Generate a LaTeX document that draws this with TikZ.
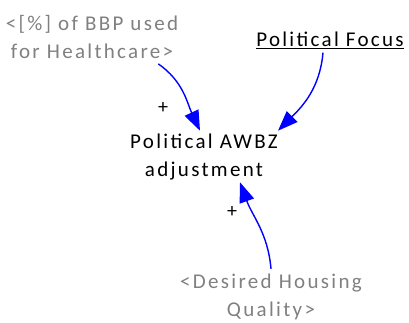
\documentclass[tikz,border=0pt]{standalone}
\usepackage{fontspec}
\setmainfont{Carlito}
\newfontfamily\diagfont{Carlito}[LetterSpace=11]
\usetikzlibrary{positioning}
\usetikzlibrary{arrows.meta}
\definecolor{linkblue}{RGB}{0,0,255}
\definecolor{shadow}{RGB}{128,128,128}

\begin{document}
\begin{tikzpicture}[
    x=1pt, y=-1pt,
    var/.style={align=center, inner sep=2pt, font=\diagfont\fontsize{21}{28}\selectfont},
    ghost/.style={var, text=shadow},
    link/.style={draw=linkblue, line width=1.4pt, -{Triangle[length=20pt,width=15pt]}},
    pol/.style={font=\fontsize{20}{22}\selectfont}
]
    \useasboundingbox (0,0) rectangle (409,323);

    \node[ghost] (hc) at (92,37) {<[\%] of BBP used\\for Healthcare>};
    \node[var] (pf) at (330,40) {\underline{Political Focus}};
    \node[var] (awbz) at (204,157) {Political AWBZ\\adjustment};
    \node[ghost] (dq) at (271,297) {<Desired Housing\\Quality>};

    \draw[link] ([xshift=-22pt,yshift=-3pt]hc.south east) to[out=-35,in=115] ([xshift=-4pt,yshift=1pt]awbz.north);
    \draw[link] ([xshift=-7pt,yshift=-2pt]pf.south) to[out=-95,in=45] ([xshift=-2pt,yshift=1pt]awbz.north east);
    \draw[link] ([yshift=3pt]dq.north) to[out=95,in=-70] ([xshift=36pt]awbz.south);

    % polarity marks
    \node[pol] (p1) at (163,108) {+};
    \node[pol] (p2) at (232,212) {+};
\end{tikzpicture}
\end{document}
